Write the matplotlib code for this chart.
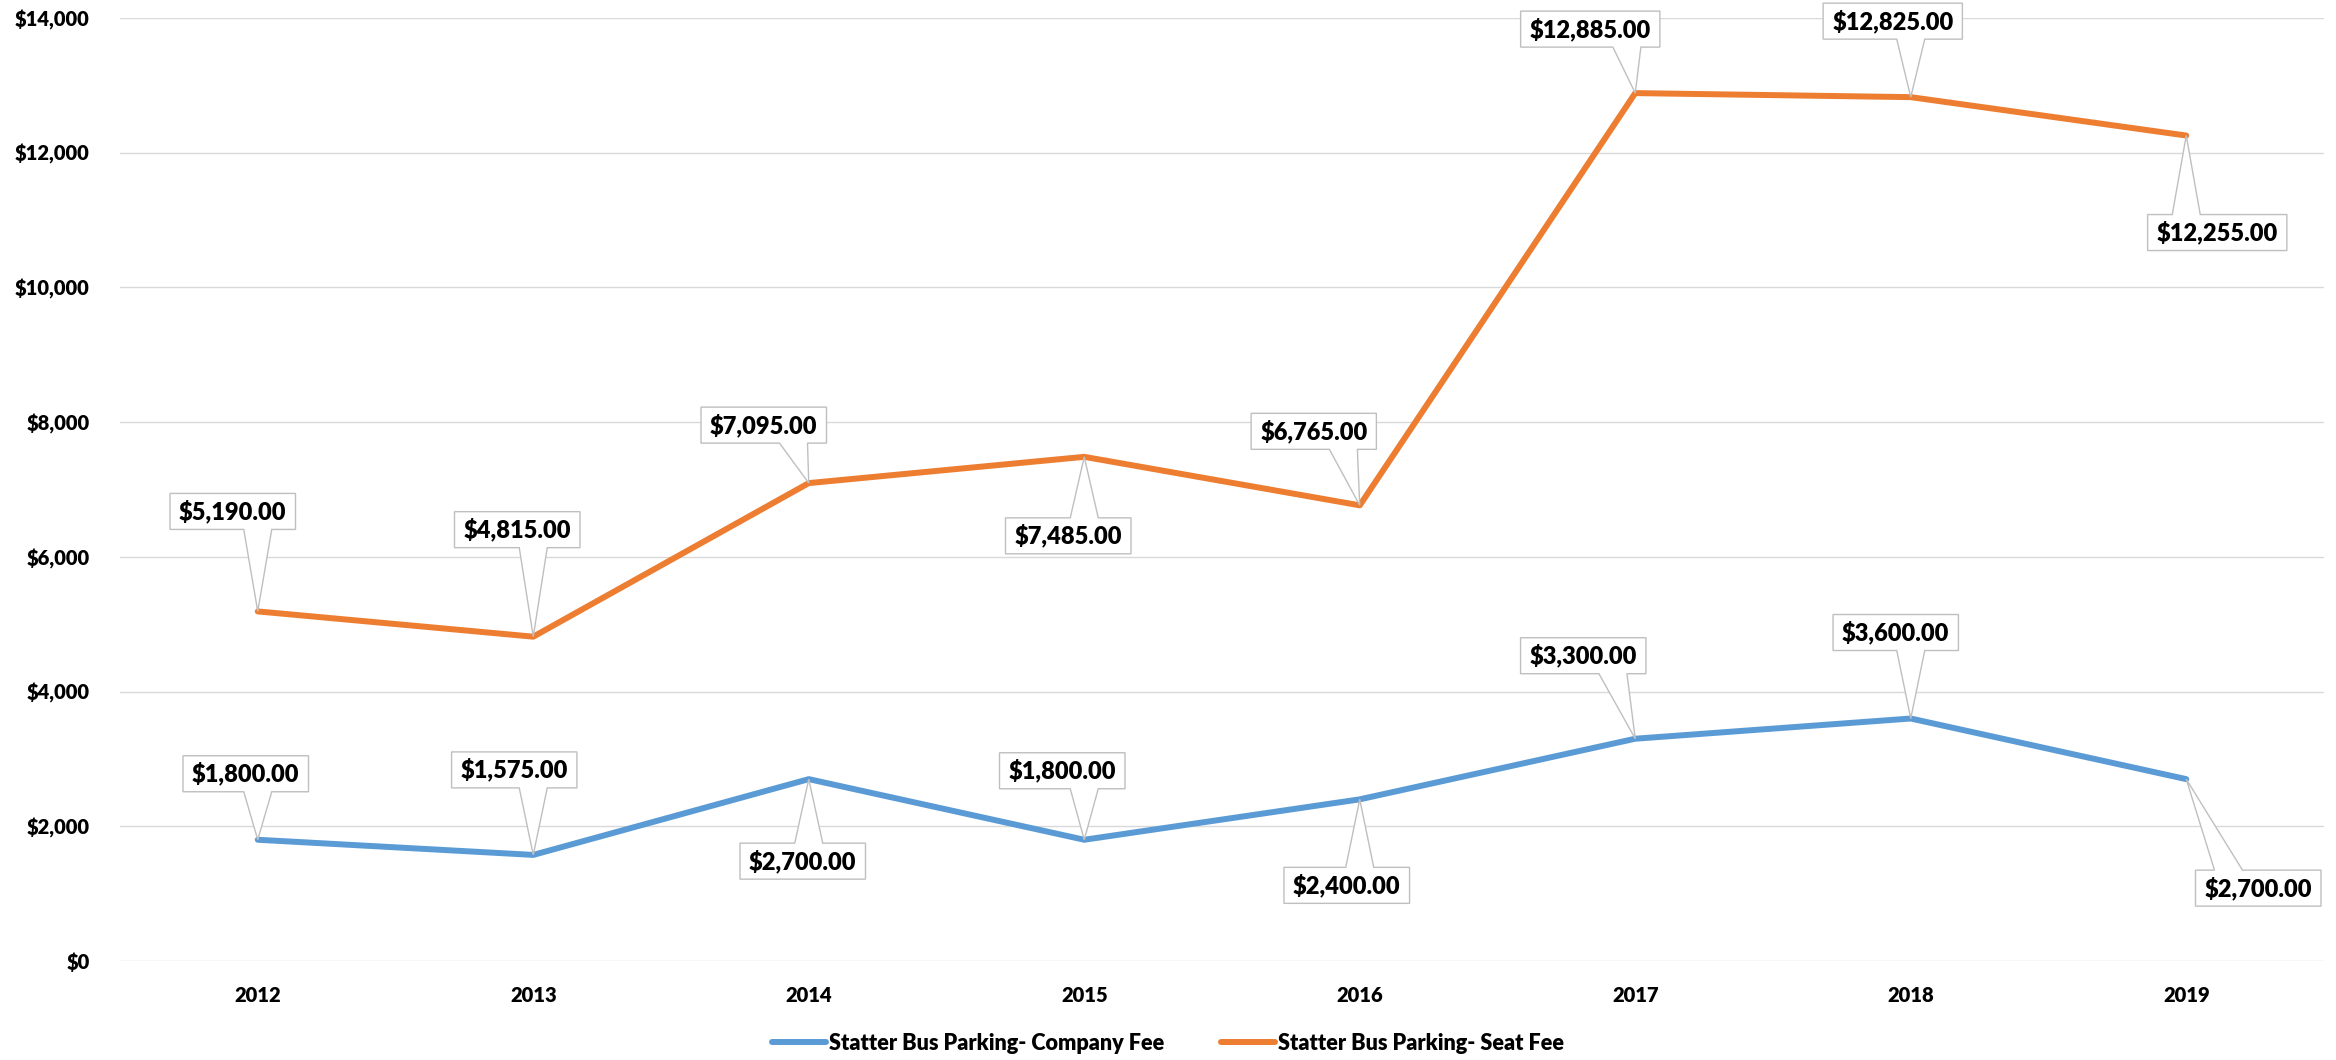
import matplotlib.pyplot as plt
import numpy as np
from matplotlib.patches import Polygon
from matplotlib.transforms import IdentityTransform

years = ["2012", "2013", "2014", "2015", "2016", "2017", "2018", "2019"]
company_fee = [1800, 1575, 2700, 1800, 2400, 3300, 3600, 2700]
seat_fee = [5190, 4815, 7095, 7485, 6765, 12885, 12825, 12255]
series_names = ["Statter Bus Parking- Company Fee", "Statter Bus Parking- Seat Fee"]

# callout box offsets (pixels, from the data point to the box centre)
company_offsets = [(-12, 66), (-19, 85), (-6, -82), (-22, 69), (-13, -86), (-52, 83), (-15, 86), (72, -109)]
seat_offsets = [(-25, 100), (-16, 107), (-45, 58), (-16, -79), (-46, 74), (-45, 64), (-18, 76), (31, -97)]

plt.rcParams['font.family'] = ['Lato', 'DejaVu Sans']
plt.rcParams['font.weight'] = 'heavy'

W, H = 2336, 1060
fig = plt.figure(figsize=(W / 100, H / 100), dpi=100)
ax = fig.add_axes([120 / W, 99 / H, 2204 / W, 943 / H])

x = np.arange(len(years))
ax.plot(x, company_fee, color="#5B9BD5", lw=4.3, solid_capstyle="round", label=series_names[0])
ax.plot(x, seat_fee, color="#ED7D31", lw=4.3, solid_capstyle="round", label=series_names[1])

ax.set_xlim(-0.5, len(years) - 0.5)
ax.set_ylim(0, 14000)
ax.set_yticks(range(0, 14001, 2000))
ax.yaxis.set_major_formatter(lambda v, p: f"${v:,.0f}")
ax.set_xticks(x, years)
ax.grid(axis="y", color="#d9d9d9", lw=1)
ax.set_axisbelow(True)
for s in ax.spines.values():
    s.set_visible(False)
ax.tick_params(axis="y", length=0, labelsize=14.5, pad=22)
ax.tick_params(axis="x", length=0, labelsize=14.5, pad=18)

fig.legend(loc="center", bbox_to_anchor=(0.5, 17 / H), ncol=2, frameon=False,
           fontsize=15.6, handlelength=2.5, handletextpad=0.15, columnspacing=2.6)

fig.canvas.draw()
renderer = fig.canvas.get_renderer()


def callout(xi, val, dx, dy):
    px, py = ax.transData.transform((xi, val))
    cx, cy = px + dx, py + dy
    t = fig.text(cx, cy, f"${val:,.2f}", transform=IdentityTransform(), ha="center", va="center",
                 fontsize=17, fontweight="heavy", zorder=6)
    bb = t.get_window_extent(renderer)
    w = bb.width + 18
    h = 36
    l, r, b, tp = cx - w / 2, cx + w / 2, cy - h / 2, cy + h / 2
    bc = min(max(px, l + 33), r - 33)
    if py > cy:
        verts = [(l, b), (r, b), (r, tp), (bc + 14, tp), (px, py), (bc - 14, tp), (l, tp)]
    else:
        verts = [(l, tp), (l, b), (bc - 14, b), (px, py), (bc + 14, b), (r, b), (r, tp)]
    fig.add_artist(Polygon(verts, closed=True, fc="white", ec="#bfbfbf", lw=1,
                           transform=IdentityTransform(), zorder=5))


for i in range(len(years)):
    callout(i, company_fee[i], *company_offsets[i])
    callout(i, seat_fee[i], *seat_offsets[i])

fig.savefig("out.png", dpi=100)
